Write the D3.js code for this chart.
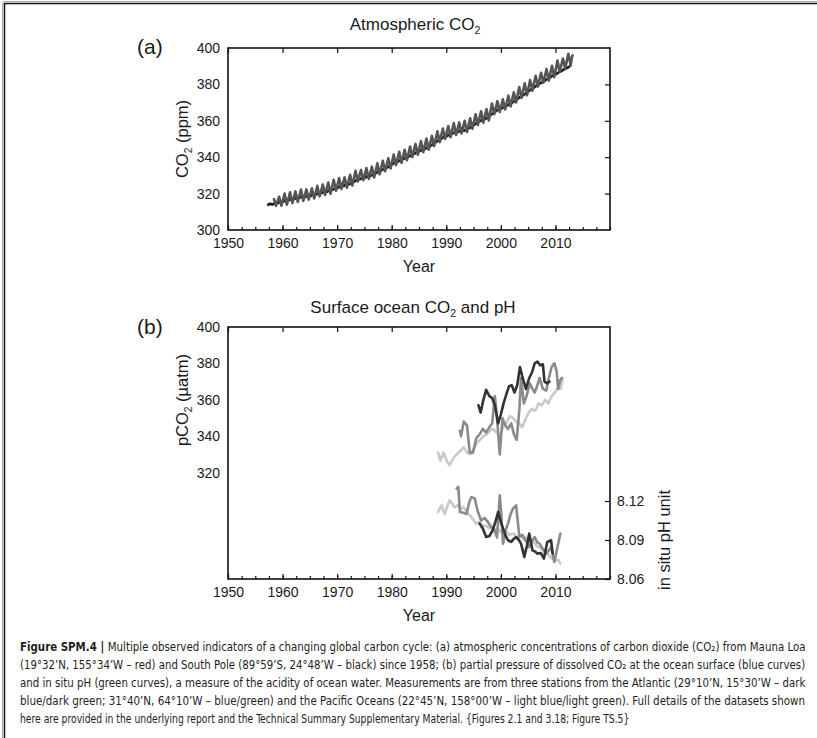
<!DOCTYPE html>
<html>
<head>
<meta charset="utf-8">
<script src="https://cdn.jsdelivr.net/npm/d3@7"></script>
<style>
  body { margin: 0; background: #fff; }
  svg { display: block; }
  text { font-family: "Liberation Sans", Arial, sans-serif; fill: #1a1a1a; }
  .caption text { font-family: "Liberation Sans Narrow", "DejaVu Sans Condensed", "Roboto", sans-serif; fill: #1e1e1e; }
</style>
</head>
<body>
<svg id="fig"></svg>
<script>
// ---- data ----
var xTicks = [1950, 1960, 1970, 1980, 1990, 2000, 2010];
var co2Ticks = [300, 320, 340, 360, 380, 400];
var pco2Ticks = [320, 340, 360, 380, 400];
var phTicks = [8.06, 8.09, 8.12];

// Mauna Loa: yearly seasonal peak (May) and trough (Oct), ppm
var mloYears = d3.range(1958, 2013);
var mloMay = [317.5, 318.3, 320.0, 320.7, 321.2, 322.2, 322.3, 322.9, 324.3, 325.0,
  326.1, 327.6, 328.5, 328.9, 330.3, 332.5, 333.0, 334.0, 334.8, 336.6,
  338.0, 339.4, 341.5, 343.0, 344.1, 345.8, 347.3, 348.8, 350.3, 351.7,
  354.2, 355.7, 357.1, 358.8, 359.1, 360.0, 361.4, 363.6, 365.2, 366.5,
  369.5, 370.8, 371.8, 373.8, 375.6, 378.5, 380.6, 382.4, 384.7, 386.4,
  388.5, 390.2, 393.1, 394.2, 396.8];
var mloOct = [313.3, 313.3, 313.9, 314.8, 315.4, 316.0, 316.7, 317.3, 318.4, 319.3,
  319.9, 321.6, 322.6, 323.2, 324.4, 326.7, 327.3, 328.1, 328.8, 330.6,
  332.3, 333.8, 335.6, 336.9, 338.3, 340.1, 341.4, 342.8, 344.1, 346.1,
  348.3, 350.1, 351.0, 352.2, 353.1, 353.8, 355.6, 357.7, 359.0, 360.2,
  363.6, 364.9, 366.2, 367.9, 370.1, 372.5, 374.0, 376.5, 378.8, 380.9,
  382.1, 384.0, 386.8, 388.8, 390.4];
// last months of the Mauna Loa record (year, ppm)
var mloTailT = [2013.0, 2013.2];
var mloTailV = [394.8, 396.5];

// South Pole: yearly low (Mar) and high (Sep), ppm
var spoYears = d3.range(1957, 2013);
var spoLow = [313.5, 314.0, 314.8, 315.7, 316.4, 317.1, 317.7, 318.2, 318.7, 319.5,
  320.3, 321.1, 322.1, 323.3, 324.2, 325.1, 326.7, 327.9, 328.9, 329.8,
  331.3, 332.9, 334.4, 336.3, 337.7, 339.1, 340.4, 342.0, 343.4, 344.7,
  346.4, 348.5, 350.4, 351.7, 353.0, 353.9, 354.5, 356.0, 358.0, 359.8,
  361.1, 363.4, 365.5, 366.9, 368.4, 370.2, 372.4, 374.3, 376.5, 378.6,
  380.5, 382.4, 384.2, 385.8, 387.5, 389.1];
var spoHigh = [314.5, 315.0, 315.8, 316.7, 317.4, 318.1, 318.7, 319.2, 319.7, 320.5,
  321.3, 322.1, 323.1, 324.3, 325.2, 326.1, 327.7, 328.9, 329.9, 330.8,
  332.3, 333.9, 335.4, 337.3, 338.7, 340.1, 341.4, 343.0, 344.4, 345.7,
  347.4, 349.5, 351.4, 352.7, 354.0, 354.9, 355.5, 357.0, 359.0, 360.8,
  362.1, 364.4, 366.5, 367.9, 369.4, 371.2, 373.4, 375.3, 377.5, 379.6,
  381.5, 383.4, 385.2, 386.8, 388.5, 390.1];

// Surface ocean pCO2 (uatm)
var hotT = [1988.5, 1988.9, 1989.5, 1990.0, 1990.6, 1991.3, 1991.9, 1992.6, 1993.2, 1993.8,
  1994.4, 1995.0, 1995.6, 1996.2, 1996.8, 1997.4, 1998.0, 1998.6, 1999.2, 1999.8,
  2000.4, 2001.0, 2001.6, 2002.2, 2002.8, 2003.4, 2003.9, 2004.5, 2005.1, 2005.7,
  2006.3, 2006.9, 2007.5, 2008.1, 2008.7, 2009.3, 2009.9, 2010.5, 2011.0, 2011.3];
var hotPco2 = [331, 326.5, 331, 327, 324, 328, 330, 332, 334, 331,
  330, 333, 336, 338, 340, 341, 343, 344, 342, 340,
  345, 347, 351, 350, 348, 347, 345, 349, 353, 355,
  354, 358, 357, 360, 358, 362, 364, 367, 366, 371];
var batsT = [1992.5, 1992.7, 1993.2, 1993.8, 1994.3, 1994.9, 1995.5, 1996.1, 1996.7, 1997.3,
  1997.9, 1998.4, 1998.9, 1999.3, 1999.8, 2000.3, 2000.8, 2001.3, 2001.9, 2002.4,
  2002.9, 2003.4, 2003.7, 2004.2, 2004.7, 2005.3, 2005.8, 2006.2, 2006.7, 2007.1,
  2007.7, 2008.3, 2008.8, 2009.3, 2009.8, 2010.2, 2010.5, 2010.9, 2011.2];
var batsPco2 = [343, 340, 348, 346, 331, 331, 339, 341, 344, 342,
  345, 347, 362, 350, 330, 350, 346, 344, 347, 341,
  338, 355, 372, 358, 362, 369, 366, 364, 368, 372,
  366, 365, 372, 378, 380, 376, 366, 371, 372];
var estocT = [1995.9, 1996.3, 1996.8, 1997.3, 1997.9, 1998.4, 1998.9, 1999.5, 2000.0, 2000.5,
  2001.0, 2001.5, 2002.0, 2002.5, 2003.0, 2003.5, 2004.0, 2004.6, 2005.2, 2005.7,
  2006.2, 2006.7, 2007.2, 2007.7, 2008.0, 2008.5, 2008.9];
var estocPco2 = [357, 353, 360, 365.5, 362, 361, 357, 347, 352, 358,
  363, 367.5, 368, 364, 368, 378, 372, 366, 372, 375,
  380, 381, 379, 379.5, 370, 369, 370];

// In situ pH
var hotPhT = [1988.5, 1989.1, 1989.7, 1990.2, 1990.6, 1991.1, 1991.5, 1992.1, 1992.6, 1993.1,
  1993.7, 1994.3, 1994.9, 1995.5, 1996.1, 1996.7, 1997.3, 1997.8, 1998.2, 1998.8,
  1999.4, 2000.0, 2000.8, 2001.5, 2002.3, 2003.0, 2003.6, 2004.2, 2004.8, 2005.4,
  2006.0, 2006.6, 2007.2, 2007.9, 2008.5, 2009.0, 2009.4, 2010.0, 2010.5, 2010.9];
var hotPh = [8.1115, 8.1167, 8.110, 8.116, 8.1205, 8.118, 8.115, 8.117, 8.1135, 8.1154,
  8.112, 8.109, 8.106, 8.1026, 8.104, 8.101, 8.101, 8.099, 8.100, 8.097,
  8.099, 8.096, 8.0975, 8.094, 8.095, 8.092, 8.0936, 8.090, 8.0923, 8.088,
  8.0885, 8.085, 8.0846, 8.081, 8.0795, 8.077, 8.0757, 8.0744, 8.075, 8.0718];
var batsPhT = [1991.9, 1992.2, 1992.5, 1993.1, 1993.7, 1994.2, 1994.6, 1995.2, 1995.8, 1996.4,
  1997.0, 1997.6, 1998.2, 1998.8, 1999.3, 1999.8, 2000.1, 2000.4, 2000.9, 2001.3,
  2001.8, 2002.2, 2002.8, 2003.4, 2003.9, 2004.5, 2005.2, 2005.7, 2006.2, 2006.7,
  2007.1, 2007.7, 2008.3, 2008.8, 2009.2, 2009.8, 2010.4, 2010.9];
var batsPh = [8.1295, 8.1308, 8.1115, 8.111, 8.110, 8.119, 8.123, 8.122, 8.1115, 8.105,
  8.107, 8.104, 8.100, 8.098, 8.092, 8.1244, 8.108, 8.0872, 8.098, 8.1026,
  8.110, 8.114, 8.1167, 8.0923, 8.094, 8.090, 8.0846, 8.089, 8.0923, 8.088,
  8.0872, 8.083, 8.0795, 8.082, 8.0846, 8.0731, 8.085, 8.095];
var estocPhT = [1996.1, 1996.7, 1997.3, 1997.9, 1998.5, 1999.0, 1999.5, 2000.0, 2000.4, 2000.9,
  2001.3, 2001.9, 2002.4, 2002.8, 2003.3, 2003.7, 2004.3, 2004.8, 2005.2, 2005.8,
  2006.3, 2006.7, 2007.3, 2007.9, 2008.5, 2009.2, 2009.5];
var estocPh = [8.1026, 8.0988, 8.0923, 8.093, 8.0975, 8.104, 8.1115, 8.104, 8.0988, 8.093,
  8.0898, 8.0885, 8.091, 8.0923, 8.090, 8.0872, 8.077, 8.086, 8.095, 8.082,
  8.081, 8.0795, 8.080, 8.0757, 8.0885, 8.0898, 8.0795];

var captionLines = [
  "(19°32’N, 155°34’W – red) and South Pole (89°59’S, 24°48’W – black) since 1958; (b) partial pressure of dissolved CO₂ at the ocean surface (blue curves)",
  "and in situ pH (green curves), a measure of the acidity of ocean water. Measurements are from three stations from the Atlantic (29°10’N, 15°30’W – dark",
  "blue/dark green; 31°40’N, 64°10’W – blue/green) and the Pacific Oceans (22°45’N, 158°00’W – light blue/light green). Full details of the datasets shown",
  "here are provided in the underlying report and the Technical Summary Supplementary Material. {Figures 2.1 and 3.18; Figure TS.5}"
];

// ---- layout ----
var W = 817, H = 738;
var left = 228, right = 610;
var darkC = "#333", midC = "#8a8a8a", lightC = "#c9c9c9";
var tickFont = 14, axisFont = 16.5, titleFont = 17;

const svg = d3.select("#fig").attr("width", W).attr("height", H);

// page frame (top and left rules)
svg.append("line").attr("x1", 2.5).attr("x2", 2.5).attr("y1", 2).attr("y2", H).attr("stroke", "#aaa").attr("stroke-width", 1);
svg.append("line").attr("x1", 3).attr("x2", W).attr("y1", 1.5).attr("y2", 1.5).attr("stroke", "#aaa").attr("stroke-width", 1);
svg.append("line").attr("x1", 4.5).attr("x2", 4.5).attr("y1", 3).attr("y2", H).attr("stroke", "#111").attr("stroke-width", 1.5);
svg.append("line").attr("x1", 4).attr("x2", W).attr("y1", 3.5).attr("y2", 3.5).attr("stroke", "#111").attr("stroke-width", 1.5);

var x = d3.scaleLinear().domain([1950, 2020]).range([left, right]);
var minorTicks = d3.range(1950, 2020.1, 2.5);

function frame(g, top, bottom, yScale, yTickVals, labelY) {
    // bottom: minor + major, inward
    g.append("g").attr("transform", "translate(0," + bottom + ")")
        .call(d3.axisBottom(x).tickValues(minorTicks).tickSize(-3).tickFormat(""))
        .call(a => a.select(".domain").remove());
    g.append("g").attr("class", "xax").attr("transform", "translate(0," + bottom + ")")
        .call(d3.axisBottom(x).tickValues(xTicks).tickSize(-5).tickPadding(8).tickFormat(d3.format("d")))
        .call(a => a.select(".domain").remove());
    g.append("g").attr("transform", "translate(0," + top + ")")
        .call(d3.axisTop(x).tickValues(xTicks).tickSize(-5).tickFormat(""))
        .call(a => a.select(".domain").remove());
    g.append("g").attr("class", "yax").attr("transform", "translate(" + left + ",0)")
        .call(d3.axisLeft(yScale).tickValues(yTickVals).tickSize(0).tickPadding(8).tickFormat(d3.format("d")))
        .call(a => a.select(".domain").remove());
    g.selectAll(".xax text, .yax text").attr("font-size", tickFont).attr("font-family", "Liberation Sans, Arial, sans-serif").attr("fill", "#1a1a1a");
    g.selectAll(".tick line").attr("stroke", "#111").attr("stroke-width", 1.2);
    g.append("text").attr("x", (left + right) / 2).attr("y", labelY).attr("text-anchor", "middle")
        .attr("font-size", 16).text("Year");
}

function titleWithSub(g, xPos, yPos, before, sub, after, size, rotate) {
    var t = g.append("text").attr("text-anchor", "middle").attr("font-size", size);
    if (rotate) t.attr("transform", "translate(" + xPos + "," + yPos + ") rotate(-90)");
    else t.attr("x", xPos).attr("y", yPos);
    t.append("tspan").text(before);
    t.append("tspan").attr("font-size", size * 0.62).attr("dy", size * 0.22).text(sub);
    t.append("tspan").attr("dy", -size * 0.22).text(after);
}

// ---- panel (a) ----
var aTop = 48, aBot = 230;
var ya = d3.scaleLinear().domain([300, 400]).range([aBot, aTop]);
var ga = svg.append("g");
titleWithSub(ga, 415, 30, "Atmospheric CO", "2", "", titleFont, false);
ga.append("text").attr("x", 137).attr("y", 54).attr("font-size", 21).text("(a)");
titleWithSub(ga, 188, (aTop + aBot) / 2, "CO", "2", " (ppm)", axisFont, true);
frame(ga, aTop, aBot, ya, co2Ticks, 272);
ga.append("g").attr("transform", "translate(" + right + ",0)")
    .call(d3.axisRight(ya).tickValues(co2Ticks.slice(1, -1)).tickSize(-5).tickFormat(""))
    .call(a => a.select(".domain").remove())
    .selectAll("line").attr("stroke", "#111").attr("stroke-width", 1.2);

var spoPts = [];
spoYears.forEach((yr, i) => { spoPts.push([yr + 0.2, spoLow[i]]); spoPts.push([yr + 0.7, spoHigh[i]]); });
var mloPts = [];
mloYears.forEach((yr, i) => { mloPts.push([yr + 0.37, mloMay[i]]); mloPts.push([yr + 0.79, mloOct[i]]); });
mloTailT.forEach((t, i) => mloPts.push([t, mloTailV[i]]));

var lineA = d3.line().x(d => x(d[0])).y(d => ya(d[1]));
ga.append("path").datum(spoPts).attr("d", lineA).attr("fill", "none").attr("stroke", "#1a1a1a").attr("stroke-width", 2.6).attr("stroke-linejoin", "round");
ga.append("path").datum(mloPts).attr("d", lineA).attr("fill", "none").attr("stroke", "#555").attr("stroke-width", 2.6).attr("stroke-linejoin", "round");
ga.append("rect").attr("x", left).attr("y", aTop).attr("width", right - left).attr("height", aBot - aTop)
    .attr("fill", "none").attr("stroke", "#111").attr("stroke-width", 1.6);

// ---- panel (b) ----
var bTop = 327, bBot = 579;
var pxPerUnit = (aBot - aTop) / 100;
var yb = d3.scaleLinear().domain([400 - (bBot - bTop) / pxPerUnit, 400]).range([bBot, bTop]);
var yph = d3.scaleLinear().domain([8.06, 8.06 + (bBot - bTop) / 1300]).range([bBot, bTop]);
var gb = svg.append("g");
titleWithSub(gb, 413, 313, "Surface ocean CO", "2", " and pH", titleFont, false);
gb.append("text").attr("x", 137).attr("y", 334).attr("font-size", 21).text("(b)");
titleWithSub(gb, 188, 400, "pCO", "2", " (µatm)", axisFont, true);
frame(gb, bTop, bBot, yb, pco2Ticks, 621);
var phAx = gb.append("g").attr("class", "phax").attr("transform", "translate(" + right + ",0)")
    .call(d3.axisRight(yph).tickValues(phTicks).tickSize(-5).tickPadding(7).tickFormat(d3.format(".2f")))
    .call(a => a.select(".domain").remove());
phAx.selectAll("text").attr("font-size", tickFont).attr("font-family", "Liberation Sans, Arial, sans-serif").attr("fill", "#1a1a1a");
phAx.selectAll("line").attr("stroke", "#111").attr("stroke-width", 1.2);
gb.append("text").attr("transform", "translate(670,540) rotate(-90)").attr("text-anchor", "middle")
    .attr("font-size", axisFont).text("in situ pH unit");

function series(ts, vs, yScale, color) {
    var pts = ts.map((t, i) => [t, vs[i]]);
    gb.append("path").datum(pts)
        .attr("d", d3.line().x(d => x(d[0])).y(d => yScale(d[1])))
        .attr("fill", "none").attr("stroke", color).attr("stroke-width", 2.6)
        .attr("stroke-linejoin", "round").attr("stroke-linecap", "round");
}
series(hotT, hotPco2, yb, lightC);
series(batsT, batsPco2, yb, midC);
series(estocT, estocPco2, yb, darkC);
series(hotPhT, hotPh, yph, lightC);
series(batsPhT, batsPh, yph, midC);
series(estocPhT, estocPh, yph, darkC);

gb.append("rect").attr("x", left).attr("y", bTop).attr("width", right - left).attr("height", bBot - bTop)
    .attr("fill", "none").attr("stroke", "#111").attr("stroke-width", 1.6);

// ---- caption ----
// each line is drawn at its natural width, then squeezed horizontally to the column
var cap = svg.append("g").attr("class", "caption");
var capX = 20, capR = 806, capY0 = 651, capStep = 18, capSize = 13;
function fitLine(t, y, target) {
    var len = t.node().getComputedTextLength();
    t.attr("transform", "translate(" + capX + "," + y + ") scale(" + (target / len) + ",1)");
}
var first = cap.append("text").attr("font-size", capSize);
first.append("tspan").attr("font-weight", "bold").text("Figure SPM.4 | ");
first.append("tspan").text(" Multiple observed indicators of a changing global carbon cycle: (a) atmospheric concentrations of carbon dioxide (CO₂) from Mauna Loa");
fitLine(first, capY0, capR - capX);
captionLines.forEach((s, i) => {
    var t = cap.append("text").attr("font-size", capSize).text(s);
    fitLine(t, capY0 + (i + 1) * capStep, i < captionLines.length - 1 ? capR - capX : 610);
});
</script>
</body>
</html>
